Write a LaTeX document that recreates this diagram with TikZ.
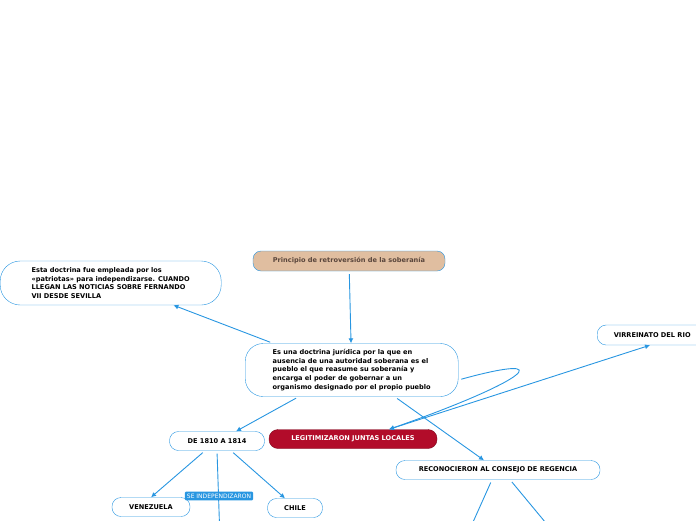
\documentclass[tikz,border=0pt]{standalone}
\usepackage{fontspec}
\setmainfont{DejaVu Sans}
\usetikzlibrary{positioning,arrows.meta}
\definecolor{linkblue}{RGB}{40,150,225}
\definecolor{tan}{RGB}{224,190,160}
\definecolor{crimson}{RGB}{178,12,42}
\definecolor{browntext}{RGB}{90,70,60}
\tikzset{
  topic/.style={draw=linkblue,rounded corners=9pt,fill=white,font=\fontsize{6.6}{8.7}\selectfont\bfseries,
    inner xsep=10pt,inner ysep=5pt,align=left},
  link/.style={draw=linkblue,line width=0.9pt,-{Latex[length=5pt,width=5pt]},shorten <=3pt},
}
\begin{document}
\begin{tikzpicture}[x=1pt,y=-1pt]
  \useasboundingbox (0,0) rectangle (696,520);
  \clip (0,0) rectangle (696,520);
  \node[topic,fill=tan,text=browntext,minimum width=192pt,minimum height=20pt,rounded corners=8pt] (principio) at (349,261) {Principio de retroversión de la soberanía};
  \node[topic,anchor=west,inner xsep=23pt,minimum width=221pt,minimum height=44pt,rounded corners=20pt] (empleo) at (0,283) {Esta doctrina fue empleada por los\\«patriotas» para independizarse. CUANDO\\LLEGAN LAS NOTICIAS SOBRE FERNANDO\\VII DESDE SEVILLA};
  \node[topic,anchor=west,inner xsep=19pt,minimum width=213pt,minimum height=53pt,rounded corners=18pt] (doctrina) at (245,370) {Es una doctrina jurídica por la que en\\ausencia de una autoridad soberana es el\\pueblo el que reasume su soberanía y\\encarga el poder de gobernar a un\\organismo designado por el propio pueblo};
  \node[topic,minimum width=95pt,minimum height=19pt] (periodo) at (217,441) {DE 1810 A 1814};
  \node[topic,fill=crimson,draw=crimson!70!black,text=white,minimum width=168pt,minimum height=19pt] (juntas) at (353,439) {LEGITIMIZARON JUNTAS LOCALES};
  \node[topic,minimum width=204pt,minimum height=19pt] (regencia) at (498,470) {RECONOCIERON AL CONSEJO DE REGENCIA};
  \node[topic,anchor=west,minimum height=20pt,minimum width=110pt,inner xsep=16pt] (virreinato) at (597,335) {VIRREINATO DEL RIO};
  \node[topic,minimum width=78pt,minimum height=19pt] (venezuela) at (151,507) {VENEZUELA};
  \node[topic,minimum width=55pt,minimum height=19pt] (chile) at (295,508) {CHILE};
  \coordinate (abajo1) at (220,540);
  \coordinate (abajo2) at (465,540);
  \coordinate (abajo3) at (560,540);
  % conectores
  \draw[link] (principio) -- (doctrina);
  \draw[link] ([xshift=28pt]doctrina.north west) -- ([xshift=-48pt]empleo.south east);
  \draw[link] ([xshift=-53pt]doctrina.south) -- ([xshift=19pt]periodo.north);
  \draw[link] ([xshift=43pt]doctrina.south) -- ([xshift=-14pt]regencia.north);
  \draw[link] ([yshift=-10pt]doctrina.east) .. controls (560,352) and (530,380) .. ([xshift=36pt]juntas.north);
  \draw[link,{Latex[length=5pt,width=5pt]}-{Latex[length=5pt,width=5pt]},shorten <=0pt] ([xshift=36pt]juntas.north) -- ([xshift=53pt]virreinato.south west);
  \draw[link] ([xshift=-12pt]periodo.south) -- (venezuela.north);
  \draw[link] ([xshift=14pt]periodo.south) -- ([xshift=-10pt]chile.north);
  \draw[link,-] (periodo.south) -- (abajo1);
  \draw[link,-] ([xshift=-6pt]regencia.south) -- (abajo2);
  \draw[link,-] ([xshift=12pt]regencia.south) -- (abajo3);
  \node[fill=linkblue,text=white,font=\fontsize{6}{7}\selectfont,inner sep=2pt,rounded corners=1pt] (independ) at (219,496) {SE INDEPENDIZARON};
\end{tikzpicture}
\end{document}
